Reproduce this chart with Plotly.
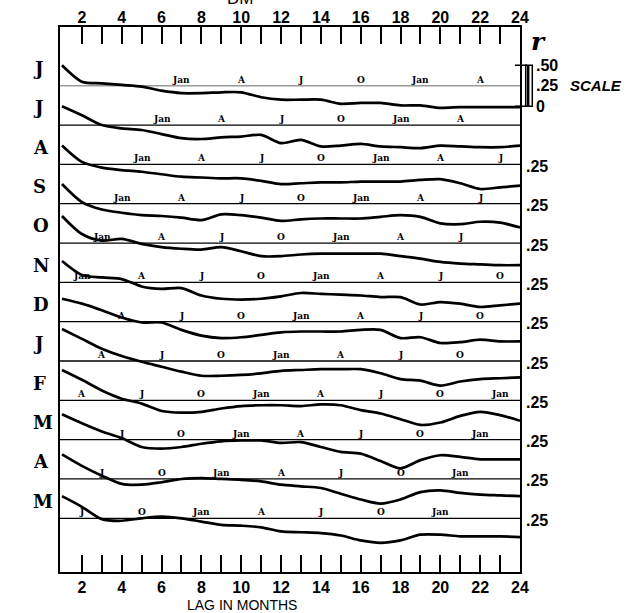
import plotly.graph_objects as go

# ---------------- data ----------------
lags = list(range(1, 25))
row_labels = ["J", "J", "A", "S", "O", "N", "D", "J", "F", "M", "A", "M"]

r_jun = [0.50,0.30,0.28,0.26,0.24,0.19,0.16,0.16,0.17,0.17,0.11,0.08,0.08,0.08,0.03,0.04,0.04,0.01,0.01,-0.02,-0.01,-0.01,-0.01,-0.01]
r_jul = [0.48,0.37,0.25,0.21,0.19,0.14,0.09,0.08,0.10,0.11,0.13,0.03,0.07,-0.01,0.00,0.02,-0.01,-0.02,-0.03,0.00,-0.01,-0.02,-0.02,0.00]
r_aug = [0.48,0.28,0.21,0.18,0.16,0.13,0.10,0.09,0.08,0.08,0.05,0.01,0.02,0.03,0.03,0.04,0.04,0.04,0.06,0.07,0.02,-0.05,-0.03,-0.01]
r_sep = [0.49,0.27,0.18,0.14,0.11,0.10,0.08,0.05,0.12,0.11,0.08,0.04,0.06,0.07,0.07,0.07,0.09,0.11,0.09,0.01,0.00,0.03,0.02,-0.04]
r_oct = [0.58,0.36,0.28,0.30,0.24,0.20,0.18,0.17,0.20,0.15,0.09,0.09,0.11,0.12,0.12,0.12,0.12,0.09,0.06,0.02,0.00,-0.01,-0.02,-0.02]
r_nov = [0.51,0.34,0.31,0.29,0.20,0.17,0.18,0.09,0.05,0.04,0.05,0.08,0.12,0.11,0.10,0.09,0.07,0.07,-0.02,0.01,-0.01,-0.05,-0.03,-0.01]
r_dec = [0.53,0.47,0.39,0.30,0.24,0.24,0.15,0.08,0.05,0.06,0.09,0.12,0.13,0.13,0.13,0.15,0.15,0.05,0.06,-0.01,0.00,0.03,0.01,0.01]
r_jan = [0.64,0.52,0.40,0.31,0.24,0.18,0.12,0.07,0.07,0.08,0.10,0.13,0.14,0.15,0.15,0.15,0.10,0.03,0.01,-0.05,0.00,0.03,0.04,0.05]
r_feb = [0.62,0.50,0.37,0.27,0.21,0.12,0.10,0.11,0.15,0.18,0.19,0.19,0.18,0.20,0.19,0.13,0.09,0.02,-0.05,-0.02,0.06,0.11,0.07,0.00]
r_mar = [0.56,0.45,0.35,0.27,0.16,0.14,0.16,0.20,0.23,0.24,0.24,0.21,0.22,0.16,0.10,0.08,-0.01,-0.10,0.00,0.06,0.04,0.01,0.01,0.01]
r_apr = [0.55,0.41,0.29,0.19,0.18,0.21,0.25,0.26,0.25,0.24,0.22,0.18,0.16,0.14,0.07,0.00,-0.05,0.00,0.09,0.11,0.08,0.06,0.05,0.04]
r_may = [0.52,0.39,0.24,0.22,0.25,0.27,0.25,0.21,0.17,0.16,0.14,0.09,0.08,0.07,0.04,-0.02,-0.05,-0.02,0.05,0.05,0.03,0.03,0.03,0.02]

series = [r_jun, r_jul, r_aug, r_sep, r_oct, r_nov, r_dec, r_jan, r_feb, r_mar, r_apr, r_may]

# calendar-month markers along each baseline (first lag, then every 3 months)
marker_first_lag = [7, 6, 5, 4, 3, 2, 4, 3, 2, 4, 3, 2]
marker_texts = [
    ["Jan", "A", "J", "O", "Jan", "A"],
    ["Jan", "A", "J", "O", "Jan", "A"],
    ["Jan", "A", "J", "O", "Jan", "A", "J"],
    ["Jan", "A", "J", "O", "Jan", "A", "J"],
    ["Jan", "A", "J", "O", "Jan", "A", "J"],
    ["Jan", "A", "J", "O", "Jan", "A", "J", "O"],
    ["A", "J", "O", "Jan", "A", "J", "O"],
    ["A", "J", "O", "Jan", "A", "J", "O"],
    ["A", "J", "O", "Jan", "A", "J", "O", "Jan"],
    ["J", "O", "Jan", "A", "J", "O", "Jan"],
    ["J", "O", "Jan", "A", "J", "O", "Jan"],
    ["J", "O", "Jan", "A", "J", "O", "Jan"],
]

x_tickvals = list(range(2, 25))
x_ticktext = ["<b>%d</b>" % v if v % 2 == 0 else "" for v in x_tickvals]

REF_R = 0.25          # value of each row's reference line
ROW_STEP = 0.4793     # vertical spacing of rows (in r units)
X_RANGE = [0.9, 24]
Y_RANGE = [-5.677, 0.966]

SERIF = "DejaVu Serif"
SANS = "Liberation Sans"

fig = go.Figure()
annotations = []
shapes = []

for k, vals in enumerate(series):
    off = -k * ROW_STEP
    fig.add_trace(go.Scatter(
        x=X_RANGE, y=[REF_R + off, REF_R + off], mode="lines",
        line=dict(color="#9a9a9a" if k == 0 else "black", width=1.3),
        hoverinfo="skip", showlegend=False))
    fig.add_trace(go.Scatter(
        x=lags, y=[v + off for v in vals], mode="lines",
        line=dict(color="black", width=2.7, shape="spline", smoothing=0.8),
        hoverinfo="skip", showlegend=False))
    annotations.append(dict(
        x=-0.063, xref="paper", y=REF_R + off + 0.21, yref="y",
        text="<b>%s</b>" % row_labels[k], showarrow=False,
        font=dict(family=SERIF, size=18, color="black")))
    for i, t in enumerate(marker_texts[k]):
        annotations.append(dict(
            x=marker_first_lag[k] + 3 * i, xref="x", y=REF_R + off, yref="y",
            yanchor="bottom", yshift=-1, text="<b>%s</b>" % t, showarrow=False,
            font=dict(family=SERIF, size=9, color="black")))
    if k >= 2:
        annotations.append(dict(
            x=1.008, xref="paper", xanchor="left", y=REF_R + off, yref="y",
            yshift=-2, text="<b>.25</b>", showarrow=False,
            font=dict(family=SANS, size=16, color="black")))

# invisible trace to activate the top axis
fig.add_trace(go.Scatter(x=X_RANGE, y=[0, 0], xaxis="x2", mode="lines",
                         line=dict(width=0), hoverinfo="skip", showlegend=False))

# scale bar
shapes.append(dict(type="rect", xref="paper", yref="y", x0=1.0124, x1=1.0267,
                   y0=0.0, y1=0.5, line=dict(color="black", width=1.5)))
shapes.append(dict(type="rect", xref="paper", yref="y", x0=1.0150, x1=1.0205,
                   y0=0.0, y1=0.5, fillcolor="black", line=dict(width=0)))
for yy in (0.5, 0.0):
    shapes.append(dict(type="line", xref="paper", yref="y", x0=0.989, x1=1.0152,
                       y0=yy, y1=yy, line=dict(color="black", width=1.5)))
for yy, t in ((0.5, ".50"), (0.25, ".25"), (0.0, "0")):
    annotations.append(dict(x=1.030, xref="paper", xanchor="left", y=yy, yref="y",
                            text="<b>%s</b>" % t, showarrow=False,
                            font=dict(family=SANS, size=16, color="black")))
annotations.append(dict(x=1.105, xref="paper", xanchor="left", y=0.25, yref="y",
                        text="<b><i>SCALE</i></b>", showarrow=False,
                        font=dict(family=SANS, size=15, color="black")))
annotations.append(dict(x=(548 - 60) / 460, xref="paper", y=(572 - 25) / 545, yref="paper",
                        text="<b><i>r</i></b>", showarrow=False,
                        font=dict(family=SERIF, size=25, color="black")))
annotations.append(dict(x=(240 - 60) / 460, xref="paper", y=(572 - 10) / 545, yref="paper",
                        yanchor="bottom", text="DM", showarrow=False,
                        font=dict(family=SANS, size=17, color="black")))
annotations.append(dict(x=(242 - 60) / 460, xref="paper", y=(572 - 605) / 545, yref="paper",
                        yanchor="middle", text="LAG IN MONTHS", showarrow=False,
                        font=dict(family=SANS, size=14, color="black")))

axis_common = dict(range=X_RANGE, tickvals=x_tickvals, ticktext=x_ticktext,
                   ticks="inside", ticklen=17, tickwidth=1.5, tickcolor="black",
                   showgrid=False, zeroline=False,
                   tickfont=dict(family=SANS, size=16, color="black"))

fig.update_layout(
    width=632, height=613,
    margin=dict(l=60, r=112, t=27, b=41, autoexpand=False),
    paper_bgcolor="white", plot_bgcolor="white",
    xaxis=dict(**axis_common, showline=True, linewidth=2, linecolor="black", mirror=True),
    xaxis2=dict(**axis_common, overlaying="x", side="top", anchor="y", showline=False),
    yaxis=dict(range=Y_RANGE, showline=True, linewidth=2, linecolor="black", mirror=True,
               showticklabels=False, ticks="", showgrid=False, zeroline=False),
    annotations=annotations, shapes=shapes, showlegend=False,
)

fig.write_html("out.html", config={"displayModeBar": False},
               post_script="document.body.style.margin='0';document.body.style.overflow='hidden';")
